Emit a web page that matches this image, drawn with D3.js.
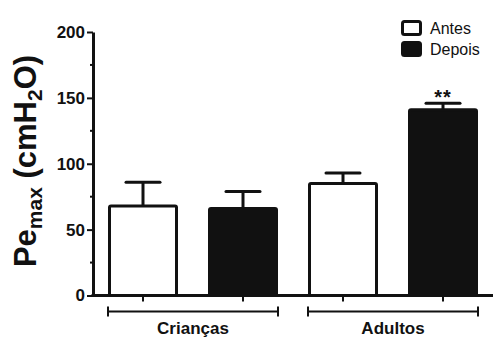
<!DOCTYPE html>
<html>
<head>
<meta charset="utf-8">
<script src="https://cdn.jsdelivr.net/npm/d3@7"></script>
<style>
  body { margin: 0; background: #fff; }
  svg { display: block; font-family: 'Liberation Sans', Arial, sans-serif; }
</style>
</head>
<body>
<div id="chart"></div>
<script>
// data
var groups = ['Crianças', 'Adultos']
var series = ['Antes', 'Depois']
var means = [[68, 66], [85, 141]]   // [group][series]
var errs = [[18, 13], [8, 5]]
var stars = [['', ''], ['', '**']]
var majorTicks = [0, 50, 100, 150, 200]
var minorTicks = [25, 75, 125, 175]

var svgWidth = 500, svgHeight = 350
var margin = { top: 32, left: 93, right: 7, bottom: 54 }

var svg = d3.select('#chart').append('svg')
  .attr('width', svgWidth)
  .attr('height', svgHeight)

var ink = '#111'

var bars = []
groups.forEach((g, gi) => {
  series.forEach((s, si) => {
    bars.push({ key: g + '-' + s, group: g, series: s, value: means[gi][si], err: errs[gi][si], star: stars[gi][si] })
  })
})

var x = d3.scaleBand()
  .domain(bars.map(d => d.key))
  .range([margin.left, svgWidth - margin.right])
  .paddingInner(0.3)
  .paddingOuter(0.15)

var y = d3.scaleLinear()
  .domain([0, 200])
  .range([svgHeight - margin.bottom - 0.5, margin.top])

// bars
svg.append('g').selectAll('rect')
  .data(bars)
  .enter()
  .append('rect')
  .attr('x', d => x(d.key) + 1.5)
  .attr('y', d => y(d.value))
  .attr('width', x.bandwidth() - 3)
  .attr('height', d => y(0) - y(d.value))
  .attr('rx', 1.5)
  .attr('fill', d => d.series == 'Antes' ? '#fff' : ink)
  .attr('stroke', ink)
  .attr('stroke-width', 3)

// error bars (upper only)
var eb = svg.append('g').selectAll('g')
  .data(bars)
  .enter()
  .append('g')
  .attr('stroke', ink)
  .attr('stroke-width', 3)
eb.append('line')
  .attr('x1', d => x(d.key) + x.bandwidth() / 2)
  .attr('x2', d => x(d.key) + x.bandwidth() / 2)
  .attr('y1', d => y(d.value))
  .attr('y2', d => y(d.value + d.err))
eb.append('line')
  .attr('stroke-linecap', 'round')
  .attr('x1', d => x(d.key) + x.bandwidth() / 2 - 17)
  .attr('x2', d => x(d.key) + x.bandwidth() / 2 + 17)
  .attr('y1', d => y(d.value + d.err))
  .attr('y2', d => y(d.value + d.err))

svg.append('g').selectAll('text')
  .data(bars.filter(d => d.star))
  .enter()
  .append('text')
  .attr('x', d => x(d.key) + x.bandwidth() / 2)
  .attr('y', d => y(d.value + d.err) + 1)
  .attr('text-anchor', 'middle')
  .style('font-size', '20px')
  .style('font-weight', 'bold')
  .style('letter-spacing', '1px')
  .attr('fill', ink)
  .text(d => d.star)

// y axis
var yAxis = svg.append('g')
  .attr('transform', `translate(${margin.left}, 0)`)
  .call(d3.axisLeft(y).tickValues(majorTicks).tickSize(6).tickSizeOuter(0).tickPadding(2))
yAxis.select('.domain').attr('stroke', ink).attr('stroke-width', 3)
yAxis.selectAll('.tick line').attr('stroke', ink).attr('stroke-width', 2)
yAxis.selectAll('.tick text')
  .attr('fill', ink)
  .style('font-size', '17px')
  .style('font-weight', 'bold')
  .style('font-family', "'Liberation Sans', Arial, sans-serif")

svg.append('g').selectAll('line')
  .data(minorTicks)
  .enter()
  .append('line')
  .attr('x1', margin.left - 3)
  .attr('x2', margin.left)
  .attr('y1', d => y(d))
  .attr('y2', d => y(d))
  .attr('stroke', ink)
  .attr('stroke-width', 2)

// x axis line + ticks under bar centres
svg.append('line')
  .attr('x1', margin.left - 1.5)
  .attr('x2', svgWidth - margin.right)
  .attr('y1', y(0))
  .attr('y2', y(0))
  .attr('stroke', ink)
  .attr('stroke-width', 3)

svg.append('g').selectAll('line')
  .data(bars)
  .enter()
  .append('line')
  .attr('x1', d => x(d.key) + x.bandwidth() / 2)
  .attr('x2', d => x(d.key) + x.bandwidth() / 2)
  .attr('y1', y(0))
  .attr('y2', y(0) + 6)
  .attr('stroke', ink)
  .attr('stroke-width', 2)

// group brackets
var bracketY = y(0) + 16
var gb = svg.append('g').selectAll('g')
  .data(groups)
  .enter()
  .append('g')
gb.each(function (g) {
  var x0 = x(g + '-' + series[0]), x1 = x(g + '-' + series[series.length - 1]) + x.bandwidth()
  var sel = d3.select(this)
  sel.append('path')
    .attr('d', `M${x0},${bracketY - 5}V${bracketY + 5}M${x0},${bracketY}H${x1}M${x1},${bracketY - 5}V${bracketY + 5}`)
    .attr('fill', 'none')
    .attr('stroke', ink)
    .attr('stroke-width', 2)
  sel.append('text')
    .attr('x', (x0 + x1) / 2)
    .attr('y', bracketY + 22)
    .attr('text-anchor', 'middle')
    .style('font-size', '17px')
    .style('font-weight', 'bold')
    .attr('fill', ink)
    .text(g)
})

// y label
var yl = svg.append('text')
  .attr('transform', 'translate(36, 161) rotate(-90)')
  .attr('text-anchor', 'middle')
  .style('font-weight', 'bold')
  .style('font-size', '31px')
  .attr('fill', ink)
yl.append('tspan').text('Pe')
yl.append('tspan').attr('dy', 6).style('font-size', '21px').text('max')
yl.append('tspan').attr('dy', -6).text(' (cmH')
yl.append('tspan').attr('dy', 6).style('font-size', '21px').text('2')
yl.append('tspan').attr('dy', -6).text('O)')

// legend
var legend = svg.append('g').attr('transform', 'translate(401, 20)')
var li = legend.selectAll('g')
  .data(series)
  .enter()
  .append('g')
  .attr('transform', (d, i) => `translate(0, ${i * 21})`)
li.append('rect')
  .attr('x', 1.5)
  .attr('y', 1.5)
  .attr('width', 18)
  .attr('height', 13)
  .attr('rx', 2)
  .attr('fill', (d, i) => i == 0 ? '#fff' : ink)
  .attr('stroke', ink)
  .attr('stroke-width', 3)
li.append('text')
  .attr('x', 29)
  .attr('y', 14)
  .style('font-size', '16px')
  .attr('fill', ink)
  .text(d => d)
</script>
</body>
</html>
